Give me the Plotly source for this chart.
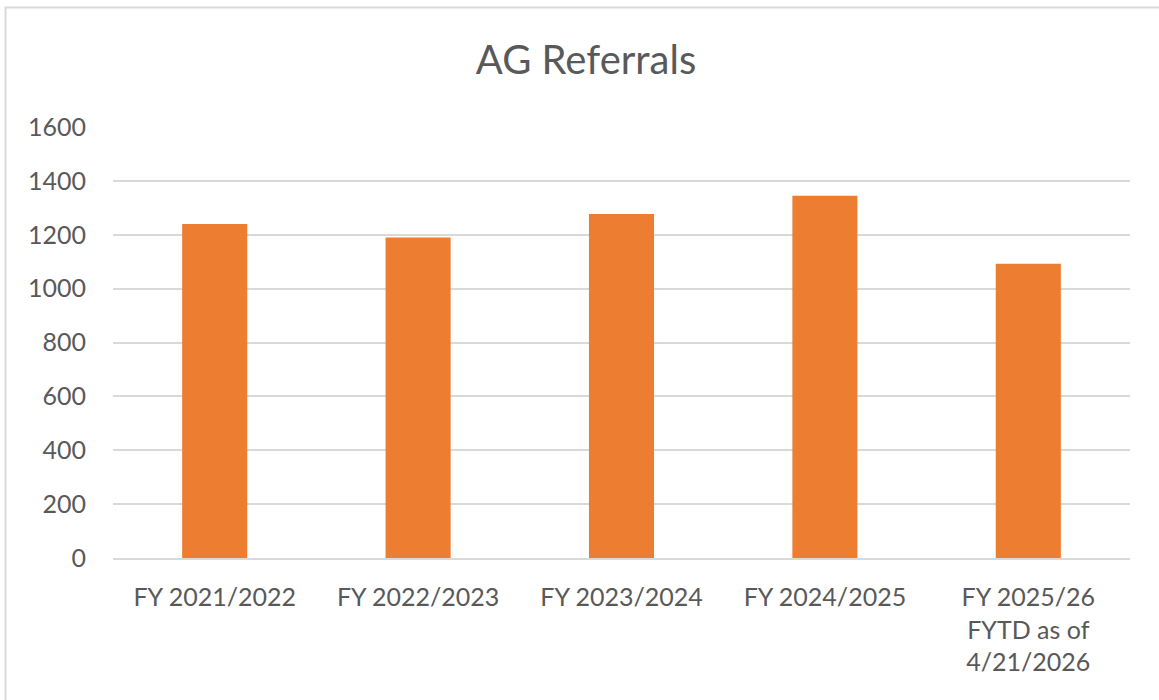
import plotly.graph_objects as go

categories = ["FY 2021/2022", "FY 2022/2023", "FY 2023/2024", "FY 2024/2025",
              "FY 2025/26<br>FYTD as of<br>4/21/2026"]
referrals = [1240, 1190, 1277, 1345, 1092]
y_ticks = [0, 200, 400, 600, 800, 1000, 1200, 1400, 1600]

W, H = 1159, 700
L, R, T, B = 113, 29, 127, 142
pw, ph = W - L - R, H - T - B

fig = go.Figure(go.Bar(x=categories, y=referrals, marker_color="#ED7D31",
                       marker_line_width=0, width=0.32))

font = "Lato, Calibri, Carlito, sans-serif"
fig.update_layout(
    width=W, height=H,
    margin=dict(l=L, r=R, t=T, b=B),
    paper_bgcolor="white", plot_bgcolor="white",
    showlegend=False,
    title=dict(text="AG Referrals", x=586 / W, xanchor="center",
               y=1 - 60 / H, yanchor="middle", yref="container",
               font=dict(family=font, size=40, color="#595959")),
    font=dict(family=font, size=25, color="#595959"),
)
fig.update_xaxes(showgrid=False, showline=True, linecolor="#D9D9D9", linewidth=2,
                 ticks="", tickfont=dict(family=font, size=25, color="#595959"),
                 ticklabelstandoff=16, fixedrange=True)
fig.update_yaxes(range=[0, 1600], tickvals=y_ticks, showgrid=True,
                 gridcolor="#D9D9D9", gridwidth=2, zeroline=False, showline=False,
                 ticks="", tickfont=dict(family=font, size=25, color="#595959"),
                 ticklabelstandoff=26, fixedrange=True)

fig.add_shape(type="rect", xref="paper", yref="paper",
              x0=(5.5 - L) / pw, x1=(W + 5 - L) / pw,
              y0=(H - B - (H + 5)) / ph, y1=(H - B - 7.5) / ph,
              line=dict(color="#D9D9D9", width=2), fillcolor="rgba(0,0,0,0)",
              layer="below")

fig.write_html("out.html", config={"displayModeBar": False},
               post_script="document.body.style.margin='0';document.body.style.overflow='hidden';")
